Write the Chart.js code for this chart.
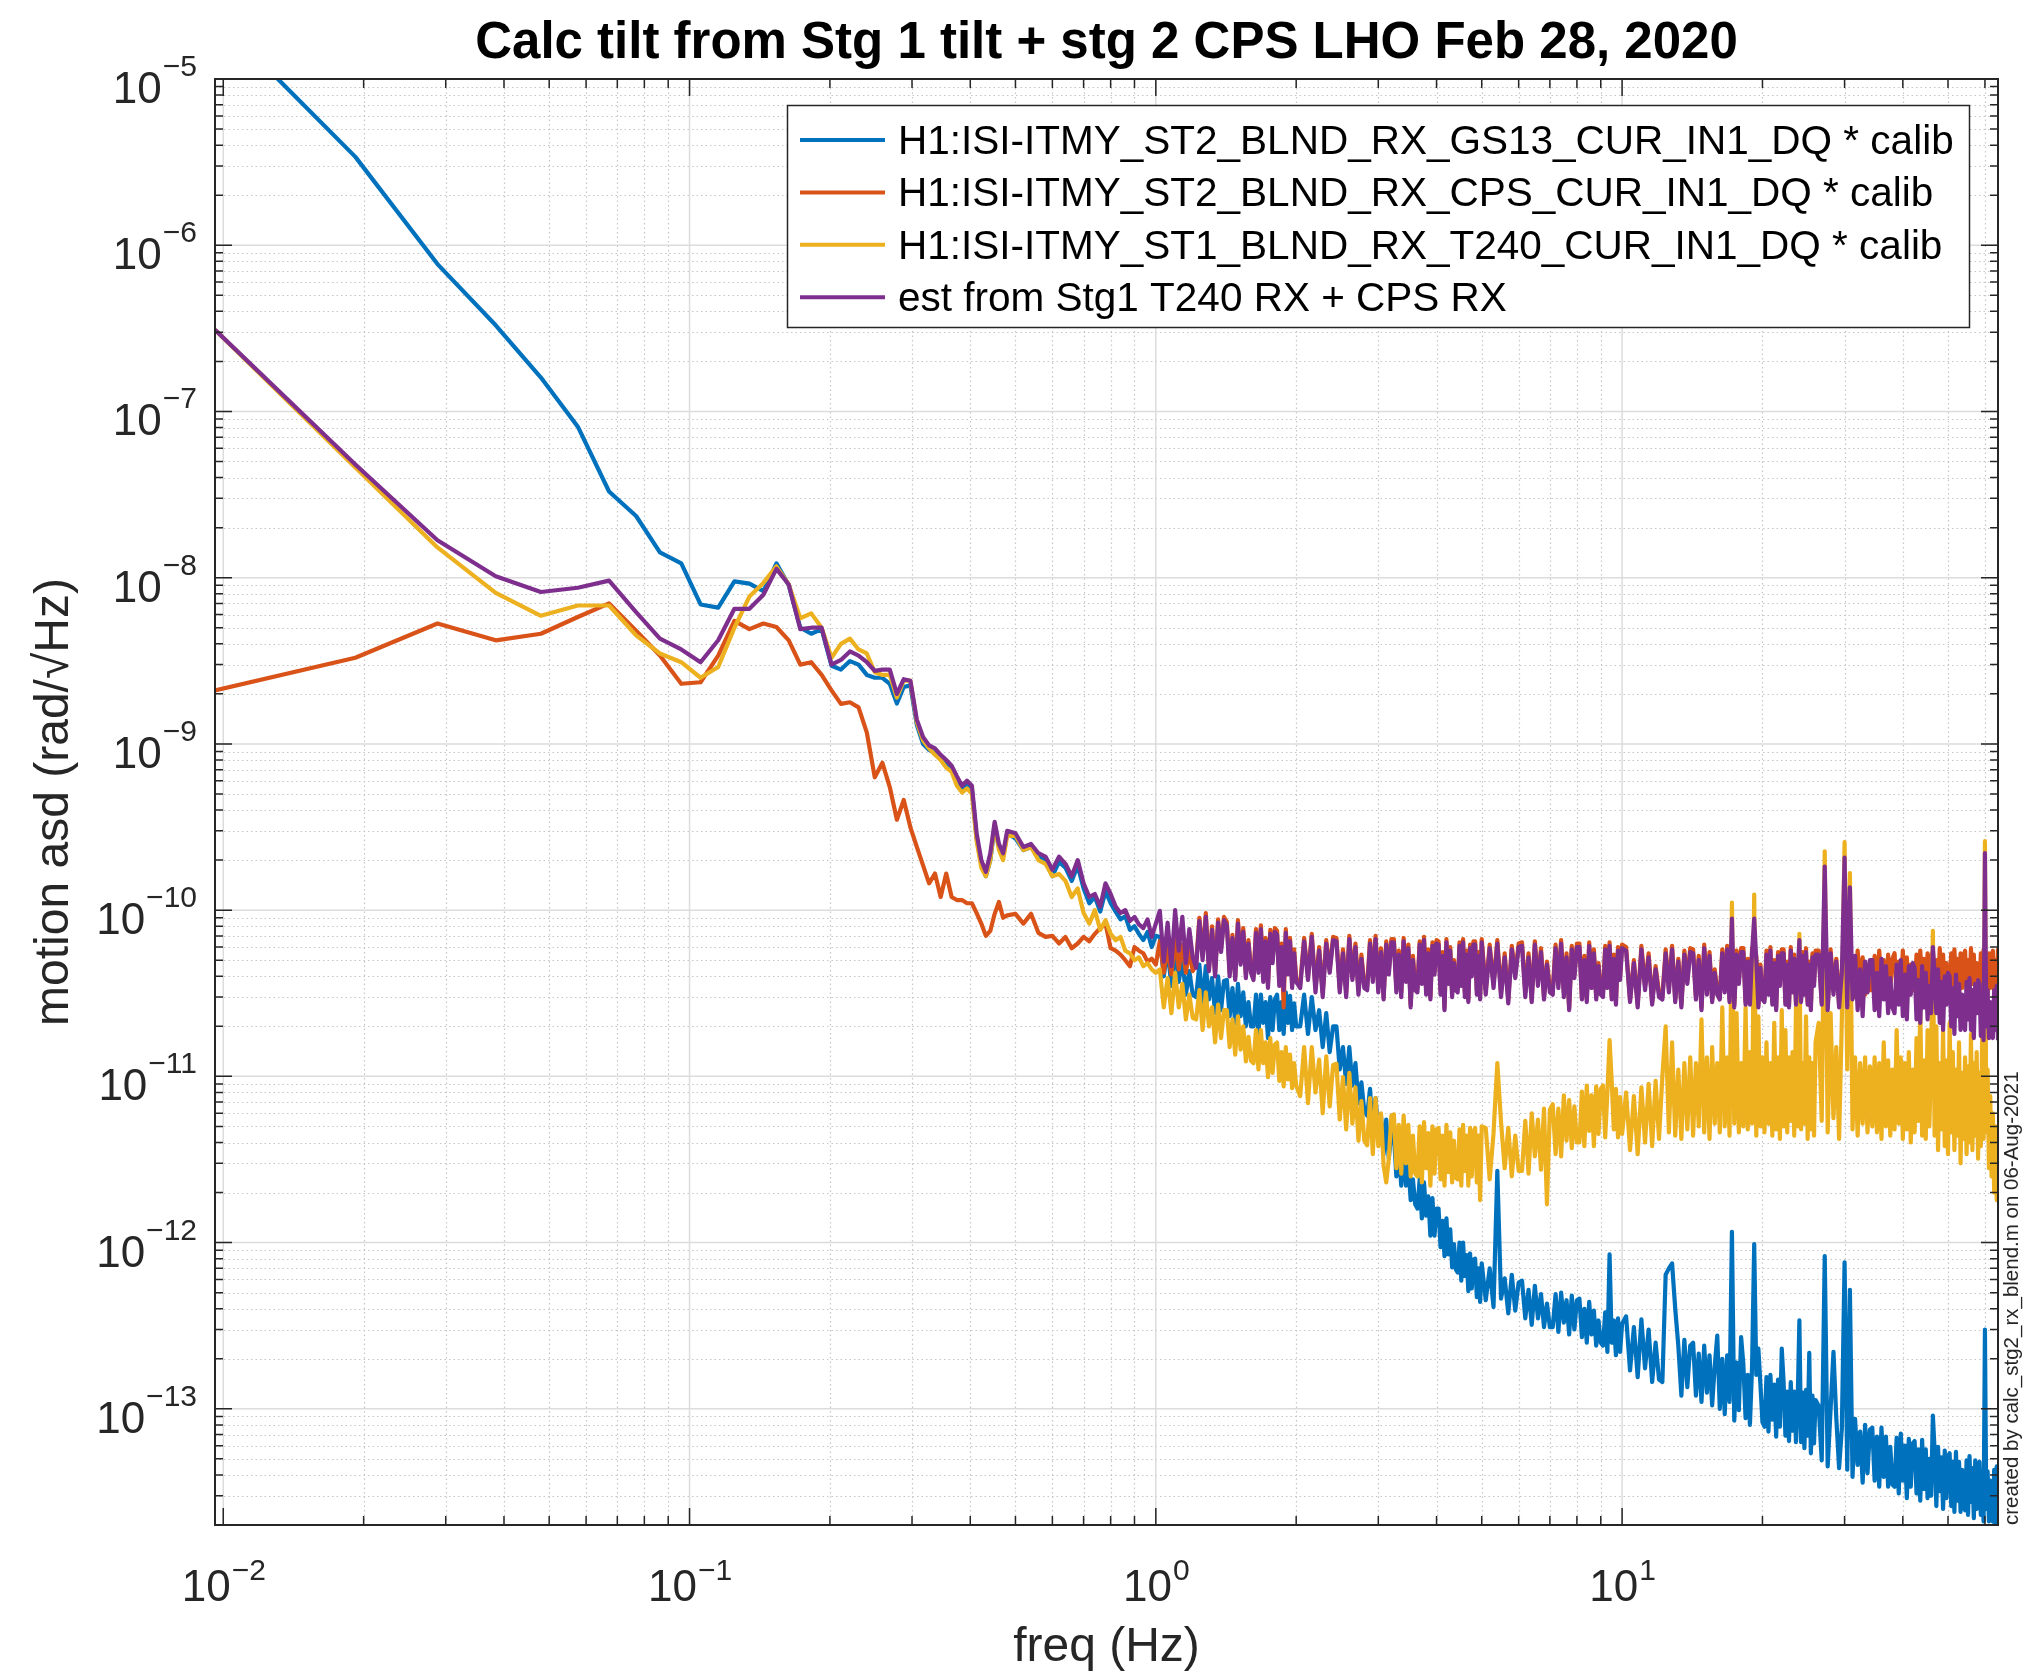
<!DOCTYPE html>
<html>
<head>
<meta charset="utf-8">
<title>Calc tilt from Stg 1 tilt + stg 2 CPS LHO Feb 28, 2020</title>
<script src="https://cdn.jsdelivr.net/npm/chart.js@4.4.1/dist/chart.umd.min.js"></script>
<style>
  html, body { margin: 0; padding: 0; background: #fff; }
  #plot { display: block; }
</style>
</head>
<body>
<canvas id="plot" width="2037" height="1680"></canvas>
<script>
// ---- data -------------------------------------------------------------
const chartTitle = "Calc tilt from Stg 1 tilt + stg 2 CPS LHO Feb 28, 2020";
const xTitle = "freq (Hz)";
const yTitle = "motion asd (rad/\u221AHz)";
const stamp = "created by calc_stg2_rx_blend.m on 06-Aug-2021";

const seriesLabels = [
  "H1:ISI-ITMY_ST2_BLND_RX_GS13_CUR_IN1_DQ * calib",
  "H1:ISI-ITMY_ST2_BLND_RX_CPS_CUR_IN1_DQ * calib",
  "H1:ISI-ITMY_ST1_BLND_RX_T240_CUR_IN1_DQ * calib",
  "est from Stg1 T240 RX + CPS RX"
];

// decade exponents that get a 10^n label
const xTickExps = [-2, -1, 0, 1];
const yTickExps = [-13, -12, -11, -10, -9, -8, -7, -6, -5];

const freqHz = [
  0.0096, 0.0192, 0.0288, 0.0384, 0.048, 0.0576, 0.0672, 0.0768, 0.0864, 0.096,
  0.1056, 0.1152, 0.1248, 0.1344, 0.144, 0.1536, 0.1632, 0.1728, 0.1824, 0.192,
  0.2016, 0.2112, 0.2208, 0.2304, 0.24, 0.2496, 0.2592, 0.2688, 0.2784, 0.288,
  0.2976, 0.3072, 0.3168, 0.3264, 0.336, 0.3456, 0.3552, 0.3648, 0.3744, 0.384,
  0.3936, 0.4032, 0.4128, 0.4224, 0.432, 0.4416, 0.4512, 0.4608, 0.4704, 0.48,
  0.5, 0.52, 0.54, 0.56, 0.58, 0.6, 0.62, 0.64, 0.66, 0.68,
  0.7, 0.72, 0.74, 0.76, 0.78, 0.8, 0.82, 0.84, 0.86, 0.88,
  0.9, 0.92, 0.94, 0.96, 0.98, 1.0,
  1.02, 1.04, 1.06, 1.08, 1.1, 1.12, 1.14, 1.16, 1.18, 1.2,
  1.22, 1.24, 1.26, 1.28, 1.3, 1.32, 1.34, 1.36, 1.38, 1.4,
  1.42, 1.44, 1.46, 1.48, 1.5, 1.52, 1.54, 1.56, 1.58, 1.6,
  1.62, 1.64, 1.66, 1.68, 1.7, 1.72, 1.74, 1.76, 1.78, 1.8,
  1.82, 1.84, 1.86, 1.88, 1.9, 1.92, 1.94, 1.96, 1.98, 2.0,
  2.04, 2.08, 2.12, 2.16, 2.2, 2.24, 2.28, 2.32, 2.36, 2.4,
  2.44, 2.48, 2.52, 2.56, 2.6, 2.64, 2.68, 2.72, 2.76, 2.8,
  2.84, 2.88, 2.92, 2.96, 3.0, 3.04, 3.08, 3.12, 3.16, 3.2,
  3.24, 3.28, 3.32, 3.36, 3.4, 3.44, 3.48, 3.52, 3.56, 3.6,
  3.64, 3.68, 3.72, 3.76, 3.8, 3.84, 3.88, 3.92, 3.96, 4.0,
  4.04, 4.08, 4.12, 4.16, 4.2, 4.24, 4.28, 4.32, 4.36, 4.4,
  4.44, 4.48, 4.52, 4.56, 4.6, 4.64, 4.68, 4.72, 4.76, 4.8,
  4.84, 4.88, 4.92, 4.96, 5.0,
  5.1, 5.2, 5.3, 5.4, 5.5, 5.6, 5.7, 5.8, 5.9, 6.0,
  6.1, 6.2, 6.3, 6.4, 6.5, 6.6, 6.7, 6.8, 6.9, 7.0,
  7.1, 7.2, 7.3, 7.4, 7.5, 7.6, 7.7, 7.8, 7.9, 8.0,
  8.1, 8.2, 8.3, 8.4, 8.5, 8.6, 8.7, 8.8, 8.9, 9.0,
  9.1, 9.2, 9.3, 9.4, 9.5, 9.6, 9.7, 9.8, 9.9, 10.0,
  10.2, 10.4, 10.6, 10.8, 11.0, 11.2, 11.4, 11.6, 11.8, 12.0,
  12.2, 12.4, 12.6, 12.8, 13.0, 13.2, 13.4, 13.6, 13.8, 14.0,
  14.2, 14.4, 14.6, 14.8, 15.0, 15.2, 15.4, 15.6, 15.8, 16.0,
  16.2, 16.4, 16.6, 16.8, 17.0, 17.2, 17.4, 17.6, 17.8, 18.0,
  18.2, 18.4, 18.6, 18.8, 19.0, 19.2, 19.4, 19.6, 19.8, 20.0,
  20.2, 20.4, 20.6, 20.8, 21.0, 21.2, 21.4, 21.6, 21.8, 22.0,
  22.2, 22.4, 22.6, 22.8, 23.0, 23.2, 23.4, 23.6, 23.8, 24.0,
  24.2, 24.4, 24.6, 24.8, 25.0, 25.2, 25.4, 25.6, 25.8, 26.0,
  26.4, 26.8, 27.2, 27.6, 28.0, 28.4, 28.8, 29.2, 29.6, 30.0,
  30.4, 30.8, 31.2, 31.6, 32.0, 32.4, 32.8, 33.2, 33.6, 34.0,
  34.4, 34.8, 35.2, 35.6, 36.0, 36.4, 36.8, 37.2, 37.6, 38.0,
  38.4, 38.8, 39.2, 39.6, 40.0, 40.4, 40.8, 41.2, 41.6, 42.0,
  42.4, 42.8, 43.2, 43.6, 44.0, 44.4, 44.8, 45.2, 45.6, 46.0,
  46.4, 46.8, 47.2, 47.6, 48.0, 48.4, 48.8, 49.2, 49.6, 50.0,
  50.4, 50.8, 51.2, 51.6, 52.0, 52.4, 52.8, 53.2, 53.6, 54.0,
  54.4, 54.8, 55.2, 55.6, 56.0, 56.4, 56.8, 57.2, 57.6, 58.0,
  58.4, 58.8, 59.2, 59.6, 60.0, 60.4, 60.8, 61.2, 61.6, 62.0,
  62.4, 62.8, 63.2, 63.6, 64.0
];

// stage 2 GS13 RX
const gs13Rx = [
  2.4e-5, 3.4e-6, 7.7e-7, 3.3e-7, 1.6e-7, 8.1e-8, 3.3e-8, 2.35e-8, 1.42e-8, 1.22e-8,
  6.9e-9, 6.6e-9, 9.5e-9, 9.2e-9, 8.3e-9, 1.22e-8, 9.0e-9, 5.0e-9, 4.6e-9, 4.9e-9,
  2.95e-9, 2.8e-9, 3.15e-9, 3.0e-9, 2.6e-9, 2.5e-9, 2.5e-9, 2.3e-9, 1.75e-9, 2.2e-9,
  2.25e-9, 1.3e-9, 1.0e-9, 9.2e-10, 8.8e-10, 8.2e-10, 7.6e-10, 7.0e-10, 6.0e-10, 5.3e-10,
  5.6e-10, 5.3e-10, 2.7e-10, 1.9e-10, 1.6e-10, 2.0e-10, 3.2e-10, 2.4e-10, 2.1e-10, 2.9e-10,
  2.7e-10, 2.3e-10, 2.4e-10, 2.1e-10, 2.0e-10, 1.6e-10, 1.95e-10, 1.8e-10, 1.5e-10, 1.85e-10,
  1.35e-10, 1.1e-10, 1.2e-10, 9.8e-11, 1.3e-10, 1.1e-10, 9.8e-11, 8.8e-11, 9.2e-11, 7.6e-11,
  8.0e-11, 7.2e-11, 6.6e-11, 7.4e-11, 6.0e-11, 7.0e-11,
  6.9e-11, 4.0e-11, 5.8e-11, 3.5e-11, 5.9e-11, 3.7e-11, 5.1e-11, 3.1e-11, 4.3e-11, 3.1e-11,
  3.0e-11, 4.7e-11, 2.7e-11, 4.6e-11, 2.9e-11, 3.9e-11, 2.4e-11, 4.0e-11, 2.5e-11, 3.75e-11,
  3.8e-11, 2.3e-11, 3.4e-11, 2.1e-11, 3.6e-11, 2.3e-11, 3.2e-11, 2.0e-11, 2.8e-11, 2.0e-11,
  2.0e-11, 3.1e-11, 1.8e-11, 3.1e-11, 2.1e-11, 2.8e-11, 1.7e-11, 3.0e-11, 1.9e-11, 2.9e-11,
  3.1e-11, 1.9e-11, 2.8e-11, 1.8e-11, 3.2e-11, 2.1e-11, 3.05e-11, 1.9e-11, 2.75e-11, 2.0e-11,
  2.0e-11, 3.1e-11, 1.8e-11, 3.0e-11, 1.9e-11, 2.5e-11, 1.5e-11, 2.4e-11, 1.4e-11, 2.0e-11,
  2.0e-11, 1.1e-11, 1.5e-11, 9.0e-12, 1.5e-11, 8.8e-12, 1.2e-11, 6.9e-12, 9.2e-12, 6.2e-12,
  5.8e-12, 8.4e-12, 4.6e-12, 7.4e-12, 4.6e-12, 5.8e-12, 3.4e-12, 5.5e-12, 3.2e-12, 4.6e-12,
  4.5e-12, 2.5e-12, 3.6e-12, 2.2e-12, 3.6e-12, 2.2e-12, 3.0e-12, 1.8e-12, 2.4e-12, 1.7e-12,
  1.6e-12, 2.4e-12, 1.4e-12, 2.3e-12, 1.45e-12, 1.9e-12, 1.1e-12, 1.85e-12, 1.1e-12, 1.6e-12,
  1.6e-12, 9.4e-13, 1.35e-12, 8.3e-13, 1.4e-12, 8.5e-13, 1.2e-12, 7.1e-13, 9.8e-13, 6.9e-13,
  6.6e-13, 1.0e-12, 5.9e-13, 1.0e-12, 6.3e-13, 8.4e-13, 5.1e-13, 8.6e-13, 5.3e-13, 7.9e-13,
  8.0e-13, 4.7e-13, 7.0e-13, 4.4e-13, 7.5e-13,
  4.5e-13, 7.0e-13, 4.1e-13, 2.7e-12, 4.6e-13, 6.1e-13, 3.75e-13, 6.4e-13, 3.9e-13, 5.75e-13,
  5.9e-13, 3.5e-13, 5.2e-13, 3.2e-13, 5.5e-13, 3.5e-13, 4.9e-13, 3.1e-13, 4.3e-13, 3.1e-13,
  3.1e-13, 4.9e-13, 2.9e-13, 5.0e-13, 3.3e-13, 4.5e-13, 2.8e-13, 4.8e-13, 3.0e-13, 4.5e-13,
  4.6e-13, 2.7e-13, 4.0e-13, 2.5e-13, 4.4e-13, 2.8e-13, 3.9e-13, 2.4e-13, 3.4e-13, 2.5e-13,
  2.4e-13, 3.8e-13, 2.2e-13, 8.5e-13, 2.5e-13, 3.4e-13, 2.1e-13, 3.5e-13, 2.2e-13, 3.25e-13,
  3.6e-13, 1.7e-13, 3.1e-13, 1.55e-13, 3.45e-13, 1.75e-13, 3.0e-13, 1.45e-13, 2.5e-13, 1.5e-13,
  1.45e-13, 6.4e-13, 7.0e-13, 7.5e-13, 4.0e-13, 2.4e-13, 1.2e-13, 2.6e-13, 1.35e-13, 2.4e-13,
  2.5e-13, 1.2e-13, 2.15e-13, 1.1e-13, 2.4e-13, 1.25e-13, 2.1e-13, 1.05e-13, 1.8e-13, 2.76e-13,
  1.0e-13, 2.0e-13, 9.3e-14, 2.1e-13, 1.1e-13, 1.16e-12, 8.5e-14, 1.9e-13, 9.8e-14, 2.7e-13,
  1.85e-13, 8.8e-14, 1.6e-13, 8.0e-14, 1.8e-13, 9.8e-13, 1.6e-13, 2.3e-13, 1.4e-13, 8.3e-14,
  7.8e-14, 1.55e-13, 7.3e-14, 1.6e-13, 8.6e-14, 1.4e-13, 6.8e-14, 1.5e-13, 7.8e-14, 2.3e-13,
  1.45e-13, 6.9e-14, 1.27e-13, 6.4e-14, 1.45e-13, 7.4e-14, 1.27e-13, 6.3e-14, 1.1e-13, 3.4e-13,
  6.3e-14, 1.25e-13, 5.8e-14, 1.3e-13, 6.9e-14, 2.17e-13, 5.4e-14, 1.2e-13, 6.2e-14, 1.13e-13,
  1.04e-13, 4.9e-14, 8.3e-13, 4.5e-14, 1.0e-13, 2.2e-13, 8.8e-14, 4.4e-14, 7.6e-14, 7.6e-13,
  4.3e-14, 5.2e-13, 3.9e-14, 8.7e-14, 4.6e-14, 7.3e-14, 3.6e-14, 8.0e-14, 4.1e-14, 7.5e-14,
  7.7e-14, 3.7e-14, 6.8e-14, 3.4e-14, 7.7e-14, 3.9e-14, 6.8e-14, 3.4e-14, 5.9e-14, 3.5e-14,
  3.4e-14, 6.7e-14, 3.1e-14, 7.1e-14, 3.7e-14, 6.0e-14, 2.9e-14, 6.6e-14, 3.4e-14, 6.2e-14,
  6.4e-14, 3.1e-14, 5.7e-14, 2.8e-14, 6.5e-14, 3.3e-14, 5.7e-14, 2.9e-14, 5.0e-14, 3.0e-14,
  9.1e-14, 5.6e-14, 2.6e-14, 5.9e-14, 3.2e-14, 5.1e-14, 2.5e-14, 5.6e-14, 2.9e-14, 5.2e-14,
  5.4e-14, 2.6e-14, 4.8e-14, 2.4e-14, 5.5e-14, 2.8e-14, 4.8e-14, 2.4e-14, 4.3e-14, 2.6e-14,
  2.45e-14, 4.9e-14, 2.3e-14, 5.2e-14, 2.75e-14, 4.4e-14, 2.2e-14, 4.9e-14, 2.5e-14, 4.6e-14,
  4.8e-14, 2.3e-14, 4.2e-14, 2.1e-14, 3.0e-13, 2.5e-14, 4.2e-14, 2.1e-14, 3.7e-14, 2.2e-14,
  2.1e-14, 4.3e-14, 2.0e-14, 4.5e-14, 2.4e-14
];

// stage 2 CPS RX
const cpsRx = [
  2.1e-9, 3.3e-9, 5.3e-9, 4.2e-9, 4.6e-9, 5.8e-9, 7.0e-9, 4.8e-9, 3.4e-9, 2.3e-9,
  2.35e-9, 3.4e-9, 5.5e-9, 4.9e-9, 5.3e-9, 5.05e-9, 4.2e-9, 3.0e-9, 3.1e-9, 2.6e-9,
  2.1e-9, 1.74e-9, 1.78e-9, 1.66e-9, 1.17e-9, 6.3e-10, 7.7e-10, 5.5e-10, 3.5e-10, 4.6e-10,
  3.15e-10, 2.4e-10, 1.86e-10, 1.45e-10, 1.66e-10, 1.2e-10, 1.66e-10, 1.2e-10, 1.15e-10, 1.15e-10,
  1.1e-10, 1.1e-10, 9.6e-11, 8.3e-11, 7.0e-11, 7.5e-11, 9.5e-11, 1.12e-10, 9.0e-11, 9.3e-11,
  9.5e-11, 8.3e-11, 9.5e-11, 7.3e-11, 6.9e-11, 7.0e-11, 6.3e-11, 6.9e-11, 5.9e-11, 6.3e-11,
  6.9e-11, 6.5e-11, 7.2e-11, 7.8e-11, 8.3e-11, 5.9e-11, 5.7e-11, 5.4e-11, 5.0e-11, 4.6e-11,
  6.0e-11, 5.7e-11, 5.5e-11, 4.9e-11, 5.1e-11, 4.7e-11,
  6.5e-11, 4.2e-11, 6.0e-11, 4.1e-11, 6.7e-11, 4.4e-11, 6.2e-11, 4.2e-11, 5.7e-11, 4.3e-11,
  4.7e-11, 9.0e-11, 5.3e-11, 9.6e-11, 4.5e-11, 8.0e-11, 4.2e-11, 8.8e-11, 5.9e-11, 9.1e-11,
  8.5e-11, 4.2e-11, 7.1e-11, 4.0e-11, 8.7e-11, 4.9e-11, 7.8e-11, 4.1e-11, 6.6e-11, 4.4e-11,
  4.0e-11, 7.7e-11, 4.4e-11, 8.1e-11, 3.9e-11, 6.8e-11, 3.6e-11, 7.6e-11, 5.0e-11, 7.8e-11,
  7.5e-11, 3.7e-11, 6.3e-11, 2.6e-11, 7.7e-11, 4.3e-11, 6.8e-11, 3.6e-11, 5.8e-11, 3.9e-11,
  3.6e-11, 6.8e-11, 4.0e-11, 7.2e-11, 3.4e-11, 6.0e-11, 3.2e-11, 6.6e-11, 4.4e-11, 6.9e-11,
  6.8e-11, 3.4e-11, 5.8e-11, 3.2e-11, 7.0e-11, 4.0e-11, 6.3e-11, 3.3e-11, 5.4e-11, 3.6e-11,
  3.5e-11, 6.6e-11, 3.9e-11, 7.0e-11, 3.4e-11, 5.9e-11, 3.0e-11, 6.5e-11, 4.3e-11, 6.7e-11,
  6.7e-11, 3.4e-11, 5.7e-11, 3.2e-11, 6.8e-11, 3.9e-11, 6.2e-11, 2.7e-11, 5.3e-11, 3.5e-11,
  3.4e-11, 6.5e-11, 3.8e-11, 6.9e-11, 3.3e-11, 5.8e-11, 3.0e-11, 6.4e-11, 4.3e-11, 6.6e-11,
  6.5e-11, 3.3e-11, 5.6e-11, 2.6e-11, 6.7e-11, 3.8e-11, 6.0e-11, 3.2e-11, 5.0e-11, 3.5e-11,
  3.4e-11, 6.4e-11, 3.7e-11, 6.7e-11, 3.2e-11, 5.7e-11, 2.9e-11, 6.2e-11, 4.2e-11, 6.5e-11,
  6.5e-11, 3.3e-11, 5.6e-11, 3.0e-11, 6.7e-11,
  3.3e-11, 6.2e-11, 3.6e-11, 6.6e-11, 3.2e-11, 5.5e-11, 2.9e-11, 6.1e-11, 4.1e-11, 6.3e-11,
  6.4e-11, 3.2e-11, 5.5e-11, 2.9e-11, 6.5e-11, 3.7e-11, 5.9e-11, 3.0e-11, 4.9e-11, 3.4e-11,
  3.3e-11, 6.2e-11, 3.6e-11, 6.6e-11, 3.2e-11, 5.5e-11, 2.6e-11, 6.1e-11, 4.1e-11, 6.3e-11,
  6.3e-11, 3.0e-11, 5.3e-11, 2.9e-11, 6.4e-11, 3.6e-11, 5.8e-11, 3.0e-11, 4.8e-11, 3.3e-11,
  3.2e-11, 6.1e-11, 3.6e-11, 6.4e-11, 3.0e-11, 5.4e-11, 2.8e-11, 6.0e-11, 4.0e-11, 6.2e-11,
  6.0e-11, 2.9e-11, 5.0e-11, 2.7e-11, 6.1e-11, 3.5e-11, 5.5e-11, 2.8e-11, 4.6e-11, 3.2e-11,
  3.0e-11, 5.8e-11, 3.4e-11, 6.1e-11, 2.9e-11, 5.1e-11, 2.7e-11, 5.7e-11, 3.8e-11, 5.9e-11,
  5.8e-11, 3.0e-11, 5.3e-11, 2.6e-11, 6.2e-11, 3.3e-11, 5.6e-11, 2.9e-11, 4.4e-11, 3.3e-11,
  3.0e-11, 5.8e-11, 3.4e-11, 6.1e-11, 2.9e-11, 4.2e-11, 2.7e-11, 5.7e-11, 3.8e-11, 5.9e-11,
  5.9e-11, 2.8e-11, 5.1e-11, 2.8e-11, 5.9e-11, 4.0e-11, 5.3e-11, 2.7e-11, 4.7e-11, 3.0e-11,
  2.9e-11, 5.7e-11, 3.3e-11, 6.0e-11, 2.8e-11, 5.0e-11, 2.6e-11, 5.6e-11, 3.7e-11, 5.8e-11,
  5.8e-11, 2.8e-11, 4.9e-11, 2.7e-11, 6.0e-11, 3.4e-11, 5.4e-11, 2.8e-11, 4.5e-11, 4.5e-11,
  2.9e-11, 5.6e-11, 3.3e-11, 5.9e-11, 2.8e-11, 4.9e-11, 2.6e-11, 5.5e-11, 3.7e-11, 5.7e-11,
  5.7e-11, 2.8e-11, 4.0e-11, 2.6e-11, 5.8e-11, 3.3e-11, 5.1e-11, 2.7e-11, 4.4e-11, 4.2e-11,
  5.5e-11, 3.2e-11, 4.9e-11, 3.0e-11, 5.7e-11, 3.5e-11, 5.2e-11, 3.1e-11, 4.7e-11, 3.3e-11,
  3.3e-11, 5.3e-11, 3.1e-11, 5.7e-11, 3.6e-11, 5.0e-11, 3.0e-11, 5.4e-11, 3.4e-11, 5.1e-11,
  5.5e-11, 3.2e-11, 4.9e-11, 3.0e-11, 5.7e-11, 3.5e-11, 5.2e-11, 3.1e-11, 4.7e-11, 3.3e-11,
  3.3e-11, 5.4e-11, 3.1e-11, 5.7e-11, 3.7e-11, 5.1e-11, 3.0e-11, 5.5e-11, 3.4e-11, 5.2e-11,
  5.7e-11, 3.3e-11, 5.0e-11, 3.1e-11, 5.9e-11, 3.6e-11, 5.4e-11, 3.2e-11, 4.8e-11, 3.4e-11,
  3.4e-11, 5.5e-11, 3.2e-11, 5.8e-11, 3.7e-11, 5.1e-11, 3.1e-11, 5.5e-11, 3.4e-11, 5.3e-11,
  5.7e-11, 3.3e-11, 5.0e-11, 3.1e-11, 5.9e-11, 3.6e-11, 5.4e-11, 3.2e-11, 4.8e-11, 3.4e-11,
  3.4e-11, 5.5e-11, 3.2e-11, 5.8e-11, 3.7e-11, 5.1e-11, 3.1e-11, 5.5e-11, 3.4e-11, 5.3e-11,
  5.7e-11, 3.3e-11, 5.0e-11, 3.1e-11, 5.9e-11
];

// stage 1 T240 RX
const t240Rx = [
  3.1e-7, 4.6e-8, 1.52e-8, 8.1e-9, 5.9e-9, 6.8e-9, 6.8e-9, 4.5e-9, 3.5e-9, 3.1e-9,
  2.5e-9, 2.9e-9, 5.0e-9, 7.7e-9, 9.3e-9, 1.17e-8, 9.1e-9, 5.7e-9, 6.1e-9, 5.0e-9,
  3.3e-9, 4.0e-9, 4.3e-9, 3.7e-9, 3.5e-9, 2.7e-9, 2.6e-9, 2.6e-9, 1.9e-9, 2.4e-9,
  2.4e-9, 1.35e-9, 1.05e-9, 9.4e-10, 8.6e-10, 8.0e-10, 7.2e-10, 6.8e-10, 5.6e-10, 5.1e-10,
  5.4e-10, 5.0e-10, 2.6e-10, 1.8e-10, 1.6e-10, 2.0e-10, 3.3e-10, 2.3e-10, 2.0e-10, 2.8e-10,
  2.8e-10, 2.3e-10, 2.4e-10, 2.0e-10, 1.9e-10, 1.6e-10, 1.65e-10, 1.5e-10, 1.2e-10, 1.35e-10,
  9.6e-11, 8.3e-11, 1.0e-10, 7.6e-11, 8.7e-11, 7.2e-11, 6.6e-11, 6.9e-11, 5.7e-11, 5.5e-11,
  5.0e-11, 5.2e-11, 4.6e-11, 4.8e-11, 4.4e-11, 4.2e-11,
  4.4e-11, 2.6e-11, 3.9e-11, 2.4e-11, 4.2e-11, 2.6e-11, 3.6e-11, 2.2e-11, 3.1e-11, 2.25e-11,
  2.2e-11, 3.3e-11, 1.9e-11, 3.2e-11, 2.0e-11, 2.6e-11, 1.6e-11, 2.7e-11, 1.7e-11, 2.5e-11,
  2.5e-11, 1.5e-11, 2.2e-11, 1.35e-11, 2.3e-11, 1.45e-11, 2.0e-11, 1.23e-11, 1.73e-11, 1.24e-11,
  1.2e-11, 1.9e-11, 1.1e-11, 1.9e-11, 1.2e-11, 1.6e-11, 9.9e-12, 1.7e-11, 1.05e-11, 1.55e-11,
  1.6e-11, 9.4e-12, 1.4e-11, 8.7e-12, 1.5e-11, 9.6e-12, 1.35e-11, 8.5e-12, 1.2e-11, 8.8e-12,
  7.6e-12, 1.5e-11, 6.9e-12, 1.5e-11, 8.0e-12, 1.26e-11, 6.0e-12, 1.32e-11, 6.6e-12, 1.17e-11,
  1.19e-11, 5.5e-12, 9.9e-12, 4.8e-12, 1.05e-11, 5.2e-12, 8.6e-12, 4.1e-12, 7.1e-12, 4.1e-12,
  3.85e-12, 7.4e-12, 3.4e-12, 7.4e-12, 3.8e-12, 6.0e-12, 2.9e-12, 2.3e-12, 3.2e-12, 5.8e-12,
  5.9e-12, 2.8e-12, 5.1e-12, 2.6e-12, 5.8e-12, 3.0e-12, 5.1e-12, 2.5e-12, 4.4e-12, 2.6e-12,
  2.5e-12, 5.0e-12, 2.3e-12, 5.3e-12, 2.8e-12, 4.55e-12, 2.2e-12, 5.0e-12, 2.6e-12, 4.8e-12,
  4.9e-12, 2.4e-12, 4.4e-12, 2.2e-12, 5.1e-12, 2.65e-12, 4.6e-12, 2.3e-12, 4.1e-12, 2.45e-12,
  2.4e-12, 4.8e-12, 2.2e-12, 5.1e-12, 2.7e-12, 4.4e-12, 2.2e-12, 4.9e-12, 2.5e-12, 4.6e-12,
  4.9e-12, 2.3e-12, 4.4e-12, 1.8e-12, 5.0e-12,
  4.9e-12, 2.4e-12, 4.55e-12, 1.2e-11, 5.3e-12, 2.8e-12, 4.9e-12, 2.5e-12, 4.4e-12, 2.7e-12,
  2.7e-12, 5.4e-12, 2.6e-12, 6.0e-12, 3.3e-12, 5.5e-12, 2.75e-12, 6.4e-12, 1.7e-12, 6.3e-12,
  6.8e-12, 3.4e-12, 6.4e-12, 3.3e-12, 7.7e-12, 4.1e-12, 7.2e-12, 3.7e-12, 6.6e-12, 4.0e-12,
  4.0e-12, 8.1e-12, 3.8e-12, 8.8e-12, 4.7e-12, 7.7e-12, 3.8e-12, 8.7e-12, 4.5e-12, 8.4e-12,
  8.8e-12, 4.3e-12, 8.0e-12, 1.65e-11, 9.3e-12, 4.8e-12, 8.4e-12, 4.3e-12, 7.5e-12, 4.5e-12,
  8.0e-12, 3.6e-12, 7.6e-12, 3.4e-12, 8.6e-12, 4.0e-12, 9.0e-12, 3.8e-12, 9.4e-12, 4.2e-12,
  1.0e-11, 2.0e-11, 4.6e-12, 1.6e-11, 4.4e-12, 1.1e-11, 4.2e-12, 1.2e-11, 4.8e-12, 1.3e-11,
  4.4e-12, 1.2e-11, 5.0e-12, 2.2e-11, 4.6e-12, 1.3e-11, 4.2e-12, 1.5e-11, 5.2e-12, 1.2e-11,
  4.6e-12, 2.6e-11, 5.0e-12, 1.3e-11, 4.4e-12, 1.11e-10, 5.2e-12, 2.4e-11, 4.6e-12, 1.2e-11,
  5.0e-12, 2.6e-11, 4.8e-12, 1.4e-11, 5.2e-12, 1.24e-10, 4.4e-12, 2.3e-11, 5.0e-12, 1.3e-11,
  4.6e-12, 1.6e-11, 5.2e-12, 1.2e-11, 4.4e-12, 2.1e-11, 4.8e-12, 1.3e-11, 4.2e-12, 2.5e-11,
  5.0e-12, 1.9e-11, 4.6e-12, 1.3e-11, 5.4e-12, 1.4e-11, 4.4e-12, 2.6e-11, 5.0e-12, 7.2e-11,
  4.8e-12, 1.2e-11, 5.2e-12, 2.3e-11, 4.2e-12, 1.3e-11, 4.8e-12, 1.2e-11, 4.4e-12, 1.6e-11,
  2.1e-11, 5.4e-12, 2.26e-10, 4.6e-12, 2.4e-11, 5.6e-12, 1.5e-11, 4.2e-12, 2.2e-11, 2.57e-10,
  1.1e-11, 1.67e-10, 4.8e-12, 1.3e-11, 4.4e-12, 1.2e-11, 5.2e-12, 1.3e-11, 4.6e-12, 1.15e-11,
  5.0e-12, 1.3e-11, 4.6e-12, 1.2e-11, 4.2e-12, 1.6e-11, 5.0e-12, 1.25e-11, 4.4e-12, 1.1e-11,
  4.8e-12, 1.9e-11, 5.2e-12, 1.3e-11, 4.2e-12, 1.2e-11, 4.8e-12, 1.4e-11, 4.0e-12, 1.1e-11,
  4.6e-12, 1.7e-11, 5.4e-12, 2.6e-11, 4.4e-12, 1.25e-11, 4.2e-12, 1.9e-11, 5.0e-12, 1.3e-11,
  7.5e-11, 4.4e-12, 2.0e-11, 3.6e-12, 1.2e-11, 4.8e-12, 1.9e-11, 3.8e-12, 1.25e-11, 3.4e-12,
  2.1e-11, 4.6e-12, 1.4e-11, 3.6e-12, 1.1e-11, 4.4e-12, 1.6e-11, 3.0e-12, 1.05e-11, 4.2e-12,
  1.3e-11, 3.4e-12, 1.15e-11, 4.0e-12, 1.8e-11, 3.6e-12, 1.2e-11, 4.4e-12, 1.4e-11, 3.2e-12,
  1.05e-11, 3.8e-12, 1.9e-11, 4.2e-12, 2.6e-10, 4.6e-12, 1.1e-11, 2.8e-12, 7.6e-12, 2.5e-12,
  6.0e-12, 2.0e-12, 5.0e-12, 1.8e-12, 2.6e-12
];

// blended estimate
const estRx = [
  3.1e-7, 4.8e-8, 1.68e-8, 1.02e-8, 8.2e-9, 8.7e-9, 9.6e-9, 6.2e-9, 4.3e-9, 3.7e-9,
  3.1e-9, 4.2e-9, 6.5e-9, 6.5e-9, 7.9e-9, 1.13e-8, 9.1e-9, 4.9e-9, 5.0e-9, 5.0e-9,
  3.0e-9, 3.2e-9, 3.6e-9, 3.4e-9, 3.1e-9, 2.75e-9, 2.8e-9, 2.8e-9, 2.0e-9, 2.45e-9,
  2.4e-9, 1.4e-9, 1.1e-9, 9.8e-10, 9.4e-10, 8.6e-10, 8.0e-10, 7.4e-10, 6.4e-10, 5.6e-10,
  6.0e-10, 5.6e-10, 2.9e-10, 2.0e-10, 1.7e-10, 2.2e-10, 3.4e-10, 2.5e-10, 2.2e-10, 3.0e-10,
  2.9e-10, 2.4e-10, 2.5e-10, 2.2e-10, 2.1e-10, 1.75e-10, 2.1e-10, 1.9e-10, 1.6e-10, 2.0e-10,
  1.45e-10, 1.2e-10, 1.25e-10, 1.05e-10, 1.45e-10, 1.25e-10, 1.05e-10, 9.6e-11, 1.0e-10, 8.6e-11,
  9.1e-11, 8.2e-11, 7.8e-11, 8.8e-11, 6.9e-11, 8.3e-11,
  9.9e-11, 4.9e-11, 8.4e-11, 4.6e-11, 1.0e-10, 5.7e-11, 9.1e-11, 4.8e-11, 7.7e-11, 5.2e-11,
  4.5e-11, 8.6e-11, 5.0e-11, 9.1e-11, 4.3e-11, 7.6e-11, 4.0e-11, 8.4e-11, 5.6e-11, 8.7e-11,
  8.1e-11, 4.0e-11, 6.8e-11, 3.8e-11, 8.3e-11, 4.7e-11, 7.4e-11, 3.9e-11, 6.3e-11, 4.2e-11,
  3.8e-11, 7.3e-11, 4.2e-11, 7.7e-11, 3.7e-11, 6.5e-11, 3.4e-11, 7.2e-11, 4.8e-11, 7.4e-11,
  7.1e-11, 3.5e-11, 6.0e-11, 3.3e-11, 7.3e-11, 4.1e-11, 6.5e-11, 3.4e-11, 5.5e-11, 3.7e-11,
  3.4e-11, 6.5e-11, 3.8e-11, 6.9e-11, 3.2e-11, 5.7e-11, 3.0e-11, 6.3e-11, 4.2e-11, 6.6e-11,
  6.5e-11, 3.2e-11, 5.5e-11, 3.0e-11, 6.7e-11, 3.8e-11, 6.0e-11, 3.1e-11, 5.1e-11, 3.4e-11,
  3.3e-11, 6.3e-11, 3.7e-11, 6.7e-11, 3.2e-11, 5.6e-11, 2.9e-11, 6.2e-11, 4.1e-11, 6.4e-11,
  6.4e-11, 3.2e-11, 5.4e-11, 3.0e-11, 6.5e-11, 3.7e-11, 5.9e-11, 2.6e-11, 5.0e-11, 3.3e-11,
  3.2e-11, 6.2e-11, 3.6e-11, 6.6e-11, 3.1e-11, 5.5e-11, 2.9e-11, 6.1e-11, 4.1e-11, 6.3e-11,
  6.2e-11, 3.1e-11, 5.3e-11, 2.5e-11, 6.4e-11, 3.6e-11, 5.7e-11, 3.0e-11, 4.8e-11, 3.3e-11,
  3.2e-11, 6.1e-11, 3.5e-11, 6.4e-11, 3.0e-11, 5.4e-11, 2.8e-11, 5.9e-11, 4.0e-11, 6.2e-11,
  6.2e-11, 3.1e-11, 5.3e-11, 2.9e-11, 6.4e-11,
  3.1e-11, 5.9e-11, 3.4e-11, 6.3e-11, 3.0e-11, 5.2e-11, 2.75e-11, 5.8e-11, 3.9e-11, 6.0e-11,
  6.1e-11, 3.0e-11, 5.2e-11, 2.8e-11, 6.2e-11, 3.5e-11, 5.6e-11, 2.9e-11, 4.7e-11, 3.2e-11,
  3.1e-11, 5.9e-11, 3.4e-11, 6.3e-11, 3.0e-11, 5.2e-11, 2.5e-11, 5.8e-11, 3.9e-11, 6.0e-11,
  6.0e-11, 2.9e-11, 5.0e-11, 2.8e-11, 6.1e-11, 3.4e-11, 5.5e-11, 2.9e-11, 4.6e-11, 3.1e-11,
  3.0e-11, 5.8e-11, 3.4e-11, 6.1e-11, 2.9e-11, 5.1e-11, 2.7e-11, 5.7e-11, 3.8e-11, 5.9e-11,
  5.7e-11, 2.8e-11, 4.8e-11, 2.6e-11, 5.8e-11, 3.3e-11, 5.2e-11, 2.7e-11, 4.4e-11, 3.0e-11,
  2.9e-11, 5.5e-11, 3.2e-11, 5.8e-11, 2.8e-11, 4.9e-11, 2.6e-11, 5.4e-11, 3.6e-11, 5.6e-11,
  5.5e-11, 2.9e-11, 5.0e-11, 2.5e-11, 5.9e-11, 3.1e-11, 5.3e-11, 2.8e-11, 4.2e-11, 3.1e-11,
  2.9e-11, 5.5e-11, 3.2e-11, 5.8e-11, 2.8e-11, 8.9e-11, 2.6e-11, 5.4e-11, 3.6e-11, 5.6e-11,
  5.6e-11, 2.7e-11, 4.9e-11, 2.7e-11, 5.6e-11, 8.9e-11, 5.0e-11, 2.6e-11, 4.5e-11, 2.9e-11,
  2.8e-11, 5.4e-11, 3.1e-11, 5.7e-11, 2.7e-11, 4.8e-11, 2.5e-11, 5.3e-11, 3.5e-11, 5.5e-11,
  5.5e-11, 2.7e-11, 4.7e-11, 2.6e-11, 5.7e-11, 3.2e-11, 5.1e-11, 2.7e-11, 4.3e-11, 6.6e-11,
  2.8e-11, 5.3e-11, 3.1e-11, 5.6e-11, 2.7e-11, 4.7e-11, 2.5e-11, 5.2e-11, 3.5e-11, 5.4e-11,
  5.4e-11, 2.7e-11, 1.83e-10, 2.5e-11, 5.5e-11, 3.1e-11, 4.9e-11, 2.6e-11, 4.2e-11, 2.07e-10,
  2.6e-11, 1.37e-10, 2.9e-11, 5.3e-11, 2.5e-11, 4.4e-11, 2.3e-11, 4.9e-11, 3.2e-11, 5.0e-11,
  5.0e-11, 2.5e-11, 4.2e-11, 2.3e-11, 5.1e-11, 2.9e-11, 4.6e-11, 2.4e-11, 3.9e-11, 2.6e-11,
  2.4e-11, 4.7e-11, 2.7e-11, 5.0e-11, 2.3e-11, 4.1e-11, 2.2e-11, 4.6e-11, 3.1e-11, 4.8e-11,
  4.5e-11, 2.2e-11, 3.8e-11, 2.1e-11, 4.6e-11, 2.6e-11, 4.2e-11, 2.2e-11, 3.5e-11, 2.4e-11,
  6.0e-11, 4.1e-11, 2.4e-11, 4.4e-11, 2.1e-11, 3.7e-11, 1.9e-11, 4.0e-11, 2.7e-11, 4.2e-11,
  4.0e-11, 2.0e-11, 3.4e-11, 1.8e-11, 4.1e-11, 2.3e-11, 3.6e-11, 1.9e-11, 3.1e-11, 2.1e-11,
  1.9e-11, 3.7e-11, 2.2e-11, 3.9e-11, 1.9e-11, 3.3e-11, 1.7e-11, 3.6e-11, 2.4e-11, 3.8e-11,
  3.6e-11, 1.75e-11, 3.0e-11, 1.65e-11, 2.2e-10, 2.0e-11, 3.3e-11, 1.7e-11, 2.8e-11, 1.85e-11,
  1.7e-11, 3.3e-11, 1.9e-11, 3.5e-11, 1.65e-11
];

// ---- styling ----------------------------------------------------------
const FONT = '"Liberation Sans", Arial, Helvetica, sans-serif';
const lineColors = ["#0072BD", "#D95319", "#EDB120", "#7E2F8E"];
const INK = "#262626";

const series = [gs13Rx, cpsRx, t240Rx, estRx];
series.forEach((s, i) => {
  if (s.length !== freqHz.length) throw new Error("series " + i + " has " + s.length + " values, expected " + freqHz.length);
});

function pairs(vals) {
  return freqHz.map((f, i) => ({ x: f, y: vals[i] }));
}

// every 1..9 x 10^n inside the scale range
function logGrid(scale) {
  const out = [];
  const lo = Math.floor(Math.log10(scale.min));
  const hi = Math.ceil(Math.log10(scale.max));
  for (let e = lo; e <= hi; e++) {
    for (let m = 1; m <= 9; m++) {
      const v = m * Math.pow(10, e);
      if (v >= scale.min * 0.999999 && v <= scale.max * 1.000001) out.push({ v, major: m === 1 });
    }
  }
  return out;
}

function expText(e) {
  return (e < 0 ? "\u2212" : "") + Math.abs(e);
}

// grid behind the traces, frame, ticks and all text on top
const matlabAxes = {
  id: "matlabAxes",
  beforeDatasetsDraw(chart) {
    const { ctx, chartArea: a, scales: { x, y } } = chart;
    ctx.save();
    ctx.lineWidth = 1.2;
    ctx.strokeStyle = "#c6c6c6";
    ctx.setLineDash([1.5, 3]);
    ctx.beginPath();
    for (const t of logGrid(x)) {
      if (t.major) continue;
      const p = Math.round(x.getPixelForValue(t.v)) + 0.5;
      ctx.moveTo(p, a.top); ctx.lineTo(p, a.bottom);
    }
    for (const t of logGrid(y)) {
      if (t.major) continue;
      const p = Math.round(y.getPixelForValue(t.v)) + 0.5;
      ctx.moveTo(a.left, p); ctx.lineTo(a.right, p);
    }
    ctx.stroke();

    ctx.setLineDash([]);
    ctx.lineWidth = 1.5;
    ctx.strokeStyle = "#dcdcdc";
    ctx.beginPath();
    for (const t of logGrid(x)) {
      if (!t.major) continue;
      const p = x.getPixelForValue(t.v);
      ctx.moveTo(p, a.top); ctx.lineTo(p, a.bottom);
    }
    for (const t of logGrid(y)) {
      if (!t.major) continue;
      const p = y.getPixelForValue(t.v);
      ctx.moveTo(a.left, p); ctx.lineTo(a.right, p);
    }
    ctx.stroke();
    ctx.restore();
  },
  afterDatasetsDraw(chart) {
    const { ctx, chartArea: a, scales: { x, y } } = chart;
    ctx.save();

    // inward ticks on all four sides
    ctx.strokeStyle = INK;
    ctx.lineWidth = 1.5;
    ctx.beginPath();
    for (const t of logGrid(x)) {
      const p = x.getPixelForValue(t.v);
      const len = t.major ? 17 : 9;
      ctx.moveTo(p, a.bottom); ctx.lineTo(p, a.bottom - len);
      ctx.moveTo(p, a.top); ctx.lineTo(p, a.top + len);
    }
    for (const t of logGrid(y)) {
      const p = y.getPixelForValue(t.v);
      const len = t.major ? 17 : 8;
      ctx.moveTo(a.left, p); ctx.lineTo(a.left + len, p);
      ctx.moveTo(a.right, p); ctx.lineTo(a.right - len, p);
    }
    ctx.stroke();

    ctx.lineWidth = 2;
    ctx.strokeRect(a.left, a.top, a.right - a.left, a.bottom - a.top);

    // decade labels 10^n
    ctx.fillStyle = INK;
    ctx.textBaseline = "alphabetic";
    for (const e of yTickExps) {
      const py = y.getPixelForValue(Math.pow(10, e));
      const sup = expText(e);
      ctx.font = "30px " + FONT;
      const ws = ctx.measureText(sup).width;
      ctx.textAlign = "left";
      ctx.fillText(sup, 197 - ws, py - 3);
      ctx.font = "44px " + FONT;
      ctx.textAlign = "right";
      ctx.fillText("10", 196 - ws, py + 24);
    }
    for (const e of xTickExps) {
      const px = x.getPixelForValue(Math.pow(10, e));
      const sup = expText(e);
      ctx.font = "44px " + FONT;
      const wb = ctx.measureText("10").width;
      ctx.font = "30px " + FONT;
      const ws = ctx.measureText(sup).width;
      const left = px - (wb + ws) / 2;
      ctx.textAlign = "left";
      ctx.fillText(sup, left + wb + 1, a.bottom + 55);
      ctx.font = "44px " + FONT;
      ctx.fillText("10", left, a.bottom + 76);
    }

    // axis titles
    const cx = (a.left + a.right) / 2;
    const cy = (a.top + a.bottom) / 2;
    ctx.font = "48px " + FONT;
    ctx.textAlign = "center";
    ctx.fillText(xTitle, cx, 1661);
    ctx.save();
    ctx.translate(68, cy);
    ctx.rotate(-Math.PI / 2);
    ctx.fillText(yTitle, 0, 0);
    ctx.restore();

    // title
    ctx.fillStyle = "#000";
    ctx.font = "bold 51px " + FONT;
    ctx.fillText(chartTitle, cx, 58);

    // legend box in the upper right
    const lx = 787.5, ly = 105.5, lw = 1182, lh = 222;
    ctx.fillStyle = "#fff";
    ctx.fillRect(lx, ly, lw, lh);
    ctx.strokeStyle = INK;
    ctx.lineWidth = 1.5;
    ctx.strokeRect(lx, ly, lw, lh);
    ctx.font = "40.5px " + FONT;
    ctx.textAlign = "left";
    chart.data.datasets.forEach((ds, i) => {
      const ry = 140 + i * 52.4;
      ctx.strokeStyle = ds.borderColor;
      ctx.lineWidth = 4;
      ctx.beginPath();
      ctx.moveTo(800, ry); ctx.lineTo(885, ry);
      ctx.stroke();
      ctx.fillStyle = "#000";
      ctx.fillText(ds.label, 898, ry + 14);
    });

    // script stamp along the right edge
    ctx.save();
    ctx.fillStyle = INK;
    ctx.font = "20.5px " + FONT;
    ctx.translate(2018, a.bottom);
    ctx.rotate(-Math.PI / 2);
    ctx.textAlign = "left";
    ctx.fillText(stamp, 0, 0);
    ctx.restore();

    ctx.restore();
  }
};

new Chart(document.getElementById("plot"), {
  type: "line",
  data: {
    datasets: series.map((vals, i) => ({
      label: seriesLabels[i],
      data: pairs(vals),
      borderColor: lineColors[i],
      borderWidth: 4.2,
      borderJoinStyle: "round",
      pointRadius: 0,
      fill: false,
      tension: 0,
      clip: 0,
      // later traces sit on top, like the plotting order
      order: series.length - i
    }))
  },
  options: {
    responsive: false,
    animation: false,
    devicePixelRatio: 1,
    events: [],
    layout: { padding: { left: 215, right: 39, top: 79, bottom: 155 } },
    scales: {
      x: { type: "logarithmic", min: 0.0096, max: 64, display: false },
      y: { type: "logarithmic", min: 2e-14, max: 1e-5, display: false }
    },
    plugins: {
      legend: { display: false },
      title: { display: false },
      tooltip: { enabled: false }
    }
  },
  plugins: [matlabAxes]
});
</script>
</body>
</html>
